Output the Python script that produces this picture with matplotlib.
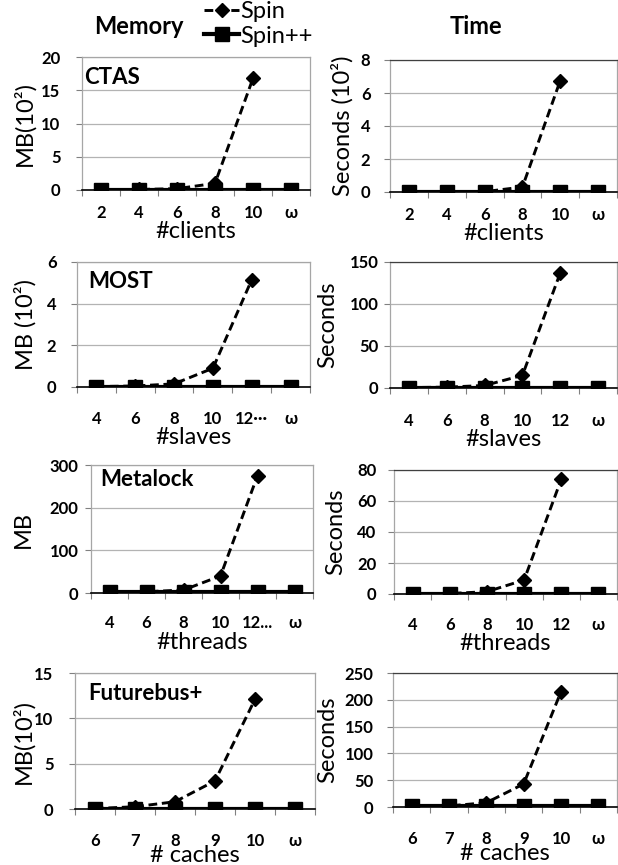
import matplotlib
matplotlib.use('Agg')
import matplotlib.pyplot as plt
import numpy as np
from matplotlib.ticker import FixedLocator, MultipleLocator

plt.rcParams['font.family'] = ['Lato', 'DejaVu Sans']

# ---- data ----
ctas_x = ['2', '4', '6', '8', '10', 'ω']
ctas_mem_spin = [0.05, 0.08, 0.2, 1.0, 16.8, np.nan]
ctas_mem_spinpp = [0.05, 0.05, 0.05, 0.05, 0.05, 0.05]
ctas_time_spin = [0.0, 0.0, 0.02, 0.3, 6.75, np.nan]
ctas_time_spinpp = [0.0, 0.0, 0.0, 0.0, 0.0, 0.0]

most_x_mem = ['4', '6', '8', '10', '12···', 'ω']
most_x_time = ['4', '6', '8', '10', '12', 'ω']
most_mem_spin = [0.02, 0.05, 0.15, 0.9, 5.15, np.nan]
most_mem_spinpp = [0.02, 0.02, 0.02, 0.02, 0.02, 0.02]
most_time_spin = [0.5, 1.0, 3.0, 15.0, 137.0, np.nan]
most_time_spinpp = [0.5, 0.5, 0.5, 0.5, 0.5, 0.5]

metalock_x_mem = ['4', '6', '8', '10', '12...', 'ω']
metalock_x_time = ['4', '6', '8', '10', '12', 'ω']
metalock_mem_spin = [2.0, 3.0, 7.0, 40.0, 275.0, np.nan]
metalock_mem_spinpp = [2.0, 2.0, 2.0, 2.0, 2.0, 2.0]
metalock_time_spin = [0.2, 0.3, 1.5, 9.0, 74.0, np.nan]
metalock_time_spinpp = [0.2, 0.2, 0.2, 0.2, 0.2, 0.2]

futurebus_x = ['6', '7', '8', '9', '10', 'ω']
futurebus_mem_spin = [0.05, 0.25, 0.8, 3.1, 12.1, np.nan]
futurebus_mem_spinpp = [0.05, 0.05, 0.05, 0.05, 0.05, 0.05]
futurebus_time_spin = [1.0, 2.0, 8.0, 43.0, 215.0, np.nan]
futurebus_time_spinpp = [1.0, 1.0, 1.0, 1.0, 1.0, 1.0]

W, H = 618, 865
fig = plt.figure(figsize=(W / 100, H / 100), dpi=100)

spin_style = dict(color='black', lw=2.1, dashes=(3.0, 1.6), marker='D', ms=7.5)
spinpp_style = dict(color='black', lw=3.0, marker='s', ms=9.5)

# (x labels, spin, spin++, ymax, ystep, ylabel, xlabel, name, box px (l, t, r, b), ylabel offset px, name offset px)
panels = [
    (ctas_x, ctas_mem_spin, ctas_mem_spinpp, 20, 5, 'MB(10²)', '#clients', 'CTAS', (82, 57, 310, 190), 58, (2, 21)),
    (ctas_x, ctas_time_spin, ctas_time_spinpp, 8, 2, 'Seconds (10²)', '#clients', None, (390, 60, 617, 192), 48, None),
    (most_x_mem, most_mem_spin, most_mem_spinpp, 6, 2, 'MB (10²)', '#slaves', 'MOST', (77, 262, 310, 387), 52, (11, 20)),
    (most_x_time, most_time_spin, most_time_spinpp, 150, 50, 'Seconds', '#slaves', None, (390, 262, 617, 388), 62, None),
    (metalock_x_mem, metalock_mem_spin, metalock_mem_spinpp, 300, 100, 'MB', '#threads', 'Metalock', (91, 465, 313, 593), 68, (9, 14)),
    (metalock_x_time, metalock_time_spin, metalock_time_spinpp, 80, 20, 'Seconds', '#threads', None, (394, 470, 617, 594), 58, None),
    (futurebus_x, futurebus_mem_spin, futurebus_mem_spinpp, 15, 5, 'MB(10²)', '# caches', 'Futurebus+', (75, 673, 315, 809), 52, (13, 20)),
    (futurebus_x, futurebus_time_spin, futurebus_time_spinpp, 250, 50, 'Seconds', '# caches', None, (393, 673, 617, 807), 65, None),
]

tick_gap = [26, 26, 35, 35, 33, 33, 34, 34]
xlabel_gap = [41, 41, 51, 51, 49, 49, 46, 46]
ytick_gap = [20, 18, 19, 10, 11, 16, 20, 18]

for i, (xl, spin, spinpp, ymax, ystep, ylab, xlab, name, box, ydx, noff) in enumerate(panels):
    l, t, r, b = box
    ax = fig.add_axes([l / W, 1 - b / H, (r - l) / W, (b - t) / H])
    x = np.arange(len(xl))
    ax.plot(x, spin, zorder=3, **spin_style)
    ax.plot(x, spinpp, zorder=4, **spinpp_style)
    ax.set_xlim(-0.5, len(xl) - 0.5)
    ax.set_ylim(0, ymax)
    ax.yaxis.set_major_locator(MultipleLocator(ystep))
    ax.grid(axis='y', color='#b3b3b3', lw=0.9)
    ax.set_axisbelow(True)
    ax.xaxis.set_major_locator(FixedLocator(x))
    ax.set_xticklabels(xl, fontweight='bold', fontsize=12)
    ax.xaxis.set_minor_locator(FixedLocator(np.arange(-0.5, len(xl), 1.0)))
    ax.tick_params(axis='x', which='major', length=0, pad=(tick_gap[i] - 10.5) * 0.72)
    ax.tick_params(axis='x', which='minor', length=4, color='#808080', width=0.8)
    ax.tick_params(axis='y', length=4, color='#808080', width=0.8, pad=(ytick_gap[i] - 4) * 0.72)
    for lbl in ax.get_yticklabels():
        lbl.set_fontweight('bold')
        lbl.set_fontsize(12)
    for side in ['left', 'right', 'top']:
        ax.spines[side].set_color('#a6a6a6')
        ax.spines[side].set_linewidth(0.9)
    if l > 300:
        ax.spines['top'].set_color('#404040')
    ax.spines['bottom'].set_color('black')
    ax.spines['bottom'].set_linewidth(1.2)
    ax.set_ylabel(ylab, fontsize=17, va='center')
    ax.yaxis.set_label_coords(-ydx / (r - l), 0.5)
    ax.set_xlabel(xlab, fontsize=17, va='center')
    ax.xaxis.set_label_coords(0.5, -xlabel_gap[i] / (b - t))
    if name:
        ax.text(noff[0] / (r - l), 1 - noff[1] / (b - t), name, transform=ax.transAxes,
                fontsize=16, fontweight='bold', va='center', ha='left')

fig.text(139 / W, 1 - 27 / H, 'Memory', fontsize=17, fontweight='bold', ha='center', va='center')
fig.text(476 / W, 1 - 27 / H, 'Time', fontsize=17, fontweight='bold', ha='center', va='center')

h1, = plt.plot([], [], **spin_style)
h2, = plt.plot([], [], **spinpp_style)
fig.legend([h1, h2], ['Spin', 'Spin++'], loc='upper left', bbox_to_anchor=(204 / W, 1 - 1 / H),
           frameon=False, fontsize=17, handlelength=1.5, handletextpad=0.05, labelspacing=0.15,
           borderpad=0.0, borderaxespad=0.0)

fig.savefig('out.png', dpi=100)
